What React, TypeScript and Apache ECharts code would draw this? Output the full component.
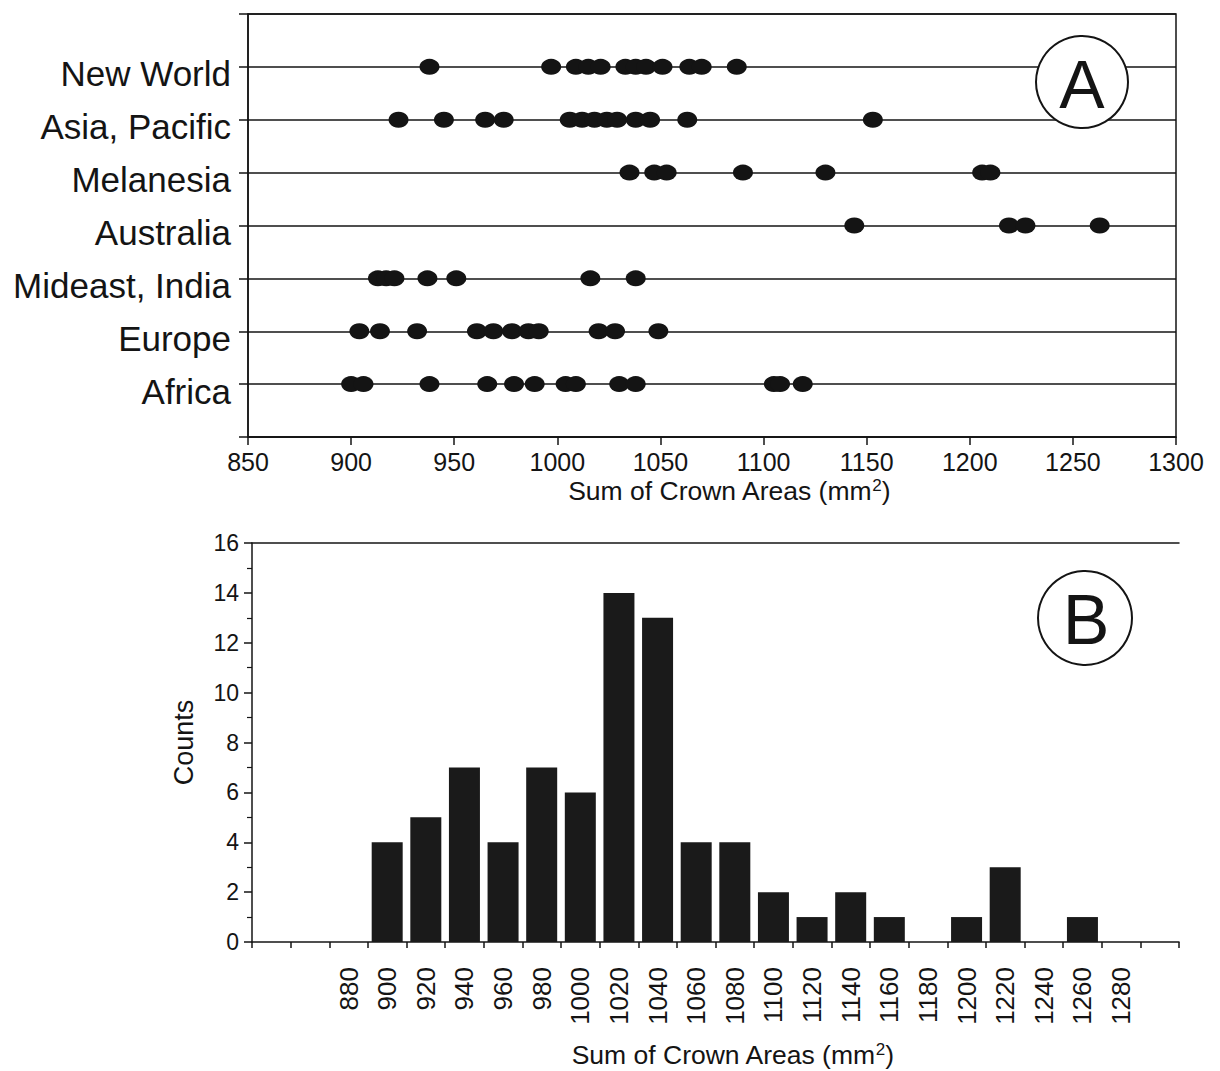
import React, { useEffect, useRef } from 'react';
import * as echarts from 'echarts';

// ---- Panel A data (sum of crown areas, mm^2), one dot per sample ----
const regionNames = ['Africa', 'Europe', 'Mideast, India', 'Australia', 'Melanesia', 'Asia, Pacific', 'New World'];
const africa = [900, 906, 938, 966, 979, 989, 1004, 1009, 1030, 1038, 1105, 1108, 1119];
const europe = [904, 914, 932, 961, 969, 978, 986, 991, 1020, 1028, 1049];
const mideastIndia = [913, 917, 921, 937, 951, 1016, 1038];
const australia = [1144, 1219, 1227, 1263];
const melanesia = [1035, 1047, 1053, 1090, 1130, 1206, 1210];
const asiaPacific = [923, 945, 965, 974, 1006, 1012, 1018, 1024, 1029, 1038, 1045, 1063, 1153];
const newWorld = [938, 997, 1009, 1015, 1021, 1033, 1038, 1043, 1051, 1064, 1070, 1087];
const regionValues = [africa, europe, mideastIndia, australia, melanesia, asiaPacific, newWorld];

const xTicksA = { min: 850, max: 1300, interval: 50 };

// ---- Panel B data: histogram bins (bin centres) and counts ----
const binLabels = ['840', '860', '880', '900', '920', '940', '960', '980', '1000', '1020', '1040', '1060',
  '1080', '1100', '1120', '1140', '1160', '1180', '1200', '1220', '1240', '1260', '1280', '1300'];
const shownBinLabels = ['880', '900', '920', '940', '960', '980', '1000', '1020', '1040', '1060', '1080',
  '1100', '1120', '1140', '1160', '1180', '1200', '1220', '1240', '1260', '1280'];
const counts = [0, 0, 0, 4, 5, 7, 4, 7, 6, 14, 13, 4, 4, 2, 1, 2, 1, 0, 1, 3, 0, 1, 0, 0];

const FONT = '"Liberation Sans", Arial, Helvetica, sans-serif';
const INK = '#141414';

export default function App() {
  const ref = useRef<HTMLDivElement>(null);

  useEffect(() => {
    if (!ref.current) return;
    const chart = echarts.init(ref.current, undefined, { renderer: 'svg' });

    const dots: number[][] = [];
    regionValues.forEach((vals, i) => vals.forEach((v) => dots.push([v, i + 1])));

    const axisNameRich = {
      sup: { fontSize: 17, fontFamily: FONT, color: INK, verticalAlign: 'top', lineHeight: 17 },
    };

    const option: any = {
      animation: false,
      backgroundColor: '#ffffff',
      textStyle: { fontFamily: FONT, color: INK },
      grid: [
        { left: 248, right: 44, top: 14, height: 423, show: true, borderColor: INK, borderWidth: 1.5 },
        { left: 252, right: 41, top: 543, height: 399 },
      ],
      xAxis: [
        {
          gridIndex: 0,
          type: 'value',
          min: xTicksA.min,
          max: xTicksA.max,
          interval: xTicksA.interval,
          axisLine: { show: true, lineStyle: { color: INK, width: 1.5 } },
          axisTick: { show: true, length: 8, lineStyle: { color: INK, width: 1.5 } },
          axisLabel: { fontSize: 25, color: INK, fontFamily: FONT, margin: 12, formatter: (v: number) => String(v) },
          splitLine: { show: false },
          name: 'Sum of Crown Areas (mm{sup|2})',
          nameLocation: 'middle',
          nameGap: 40,
          nameTextStyle: { fontSize: 26.5, color: INK, fontFamily: FONT, padding: [0, 0, 0, 34], rich: axisNameRich },
        },
        {
          gridIndex: 1,
          type: 'category',
          data: binLabels,
          boundaryGap: true,
          axisLine: { show: true, lineStyle: { color: INK, width: 1.5 } },
          axisTick: { show: true, length: 6, interval: 0, lineStyle: { color: INK, width: 1.5 } },
          axisLabel: {
            interval: 0,
            rotate: 90,
            fontSize: 26,
            color: INK,
            fontFamily: FONT,
            margin: 25,
            formatter: (v: string) => (shownBinLabels.includes(v) ? v : ''),
          },
          name: 'Sum of Crown Areas (mm{sup|2})',
          nameLocation: 'middle',
          nameGap: 99,
          nameTextStyle: { fontSize: 26.5, color: INK, fontFamily: FONT, padding: [0, 0, 0, 34], rich: axisNameRich },
        },
        {
          gridIndex: 1,
          type: 'value',
          position: 'top',
          min: 0,
          max: 1,
          axisLine: { show: true, onZero: false, lineStyle: { color: INK, width: 1.5 } },
          axisTick: { show: false },
          axisLabel: { show: false },
          splitLine: { show: false },
        },
      ],
      yAxis: [
        {
          gridIndex: 0,
          type: 'value',
          min: 0,
          max: 8,
          interval: 1,
          axisLine: { show: true, lineStyle: { color: INK, width: 1.5 } },
          axisTick: { show: true, length: 9, lineStyle: { color: INK, width: 1.5 } },
          axisLabel: {
            fontSize: 35,
            color: INK,
            fontFamily: FONT,
            margin: 17,
            verticalAlign: 'top',
            lineHeight: 14,
            formatter: (v: number) => regionNames[v - 1] ?? '',
          },
          splitLine: { show: true, lineStyle: { color: INK, width: 1.5 } },
        },
        {
          gridIndex: 1,
          type: 'value',
          min: 0,
          max: 16,
          interval: 2,
          axisLine: { show: true, lineStyle: { color: INK, width: 1.5 } },
          axisTick: { show: true, length: 8, lineStyle: { color: INK, width: 1.5 } },
          minorTick: { show: true, splitNumber: 2, length: 5, lineStyle: { color: INK, width: 1.2 } },
          axisLabel: { fontSize: 23, color: INK, fontFamily: FONT, margin: 13 },
          splitLine: { show: false },
          name: 'Counts',
          nameLocation: 'middle',
          nameGap: 55,
          nameRotate: 90,
          nameTextStyle: { fontSize: 27, color: INK, fontFamily: FONT },
        },
      ],
      series: [
        {
          type: 'scatter',
          xAxisIndex: 0,
          yAxisIndex: 0,
          symbol: 'circle',
          symbolSize: [20, 16],
          itemStyle: { color: INK, opacity: 1 },
          data: dots,
          z: 5,
        },
        {
          type: 'bar',
          xAxisIndex: 1,
          yAxisIndex: 1,
          data: counts,
          barWidth: 31,
          itemStyle: { color: '#1a1a1a' },
        },
      ],
      graphic: [
        {
          type: 'circle',
          shape: { cx: 1082, cy: 82, r: 46 },
          style: { fill: '#ffffff', stroke: INK, lineWidth: 2 },
          z: 100,
        },
        {
          type: 'text',
          x: 1082,
          y: 84,
          style: { text: 'A', fontSize: 68, fontFamily: FONT, fill: INK, textAlign: 'center', textVerticalAlign: 'middle' },
          z: 101,
        },
        {
          type: 'circle',
          shape: { cx: 1085, cy: 618, r: 47 },
          style: { fill: '#ffffff', stroke: INK, lineWidth: 2 },
          z: 100,
        },
        {
          type: 'text',
          x: 1086,
          y: 620,
          style: { text: 'B', fontSize: 70, fontFamily: FONT, fill: INK, textAlign: 'center', textVerticalAlign: 'middle' },
          z: 101,
        },
      ],
    };

    chart.setOption(option);
    return () => chart.dispose();
  }, []);

  return (
    <div
      ref={ref}
      style={{ position: 'absolute', left: 0, top: 0, width: 1220, height: 1071, background: '#fff' }}
    />
  );
}
